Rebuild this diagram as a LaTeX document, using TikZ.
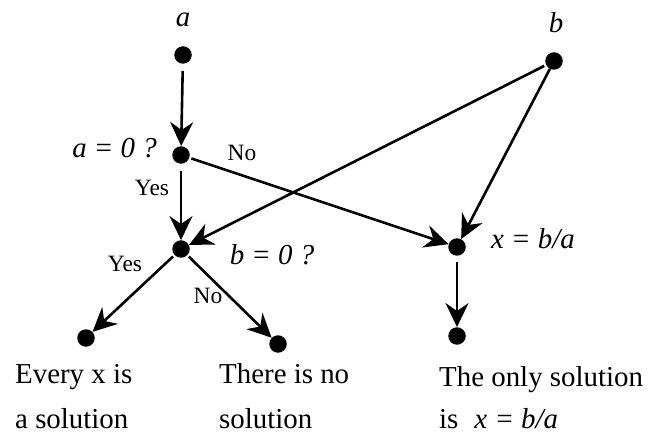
\documentclass[tikz,border=0pt]{standalone}
\usepackage{fontspec}
\setmainfont{Liberation Serif}[ItalicFont={Liberation Serif Italic}]
\usetikzlibrary{arrows.meta}
\begin{document}
\begin{tikzpicture}[x=1bp,y=-1bp,
  dot/.style={circle,fill=black,inner sep=0pt,minimum size=17.5bp},
  arr/.style={-{Stealth[length=24bp,width=23bp,inset=8bp]},line width=2.6bp},
  lab/.style={font=\fontsize{23.5}{28}\selectfont,inner sep=0pt},
  mathlab/.style={font=\fontsize{29}{34}\selectfont\itshape,inner sep=0pt},
  txt/.style={font=\fontsize{29}{45}\selectfont,inner sep=0pt,anchor=base west}]
\useasboundingbox (0,0) rectangle (649,434);
% dots
\node[dot] (a) at (183,55) {};
\node[dot] (a0) at (181,155) {};
\node[dot] (b) at (554,61) {};
\node[dot] (b0) at (181,249) {};
\node[dot] (x) at (457,247) {};
\node[dot] (xs) at (457,336) {};
\node[dot] (l) at (86,338) {};
\node[dot] (r) at (278,344) {};
% labels
\node[mathlab] (la) at (183,20) {a};
\node[mathlab] (lb) at (556,23) {b};
\node[mathlab,anchor=east] (la0) at (157,148) {a = 0 ?};
\node[mathlab] (lb0) at (272,255) {b = 0 ?};
\node[mathlab] (lx) at (533,239) {x = b/a};
\node[lab] (no1) at (242,153) {No};
\node[lab] (yes1) at (152,188) {Yes};
\node[lab] (yes2) at (125,264) {Yes};
\node[lab] (no2) at (208,296) {No};
% bottom texts
\node[txt] (t1) at (15,383) {Every x is};
\node[txt] (t2) at (15,428) {a solution};
\node[txt] (t3) at (219,383) {There is no};
\node[txt] (t4) at (219,428) {solution};
\node[txt] (t5) at (439,386) {The only solution};
\node[txt] (t6) at (439,428) {is\hspace{16bp}\textit{x = b/a}};
% arrows
\draw[arr,shorten <=7bp] (a) -- (a0);
\draw[arr,shorten <=7bp] (a0) -- (b0);
\draw[arr,shorten <=2bp] (a0) -- (x);
\draw[arr,shorten <=2bp] (b) -- (b0);
\draw[arr] (b) -- (x);
\draw[arr,shorten <=6bp] (x) -- (xs);
\draw[arr,shorten <=2bp] (b0) -- (l);
\draw[arr,shorten <=2bp] (b0) -- (r);
\end{tikzpicture}
\end{document}
